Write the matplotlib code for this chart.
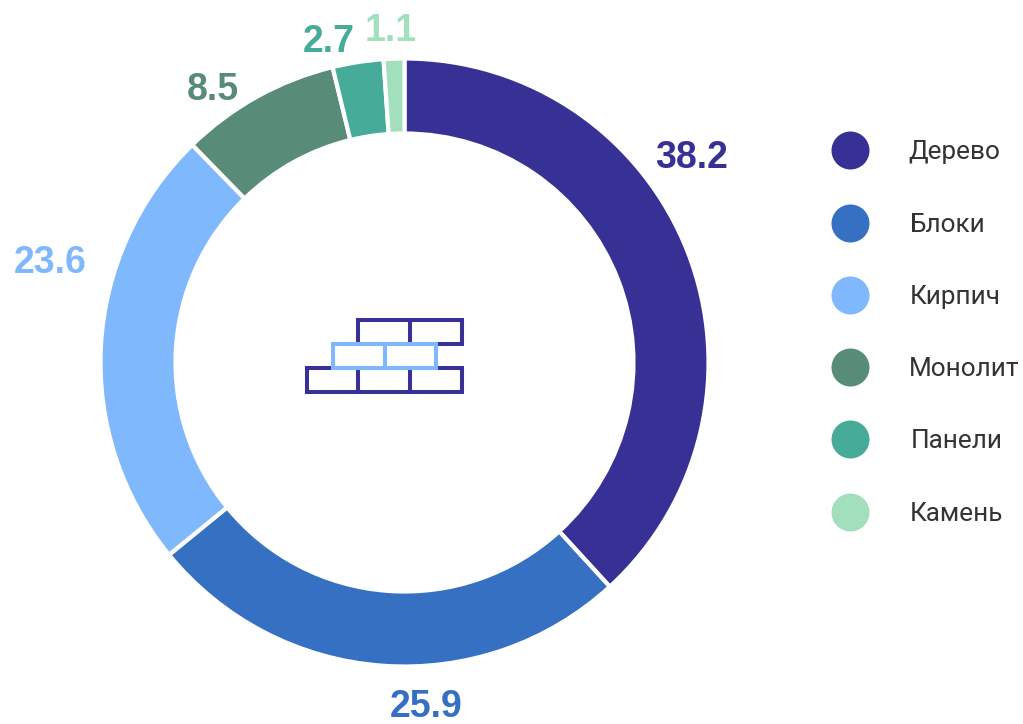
import matplotlib
matplotlib.use('Agg')
import matplotlib.pyplot as plt

names = ['Дерево', 'Блоки', 'Кирпич', 'Монолит', 'Панели', 'Камень']
values = [38.2, 25.9, 23.6, 8.5, 2.7, 1.1]
colors = ['#373196', '#3570c2', '#7fb8fd', '#588c78', '#46ac99', '#a2dfbc']

W, H = 1023, 724
fig = plt.figure(figsize=(W / 100, H / 100), dpi=100)
ax = fig.add_axes([0, 0, 1, 1])

# y axis is flipped (pixel coords), so counterclock=True runs clockwise on screen
ax.pie(values, colors=colors, center=(404.5, 362.5), radius=304, startangle=-90,
       counterclock=True, frame=False,
       wedgeprops=dict(width=75, edgecolor='white', linewidth=3))
ax.set_xlim(0, W)
ax.set_ylim(H, 0)
ax.axis('off')

# value labels
label_pos = [(692, 158), (426, 707), (50, 263), (213, 90), (329, 42), (391, 31)]
for v, c, (x, y) in zip(values, colors, label_pos):
    ax.text(x, y, str(v), color=c, fontsize=27, fontweight='bold',
            family='Liberation Sans', ha='center', va='center')

# legend
legend_y = [152, 225, 297, 369, 441, 514]
legend_x = [908.5, 909.5, 909.5, 908.5, 910.5, 909.5]
circle_y = [150, 223, 295, 367, 439, 512]
for n, c, y, x, cy in zip(names, colors, legend_y, legend_x, circle_y):
    ax.scatter([849.5], [cy], s=(38 * 0.72) ** 2, color=c, linewidths=0)
    ax.text(x, y, n, color='#333336', fontsize=18.8, family='Roboto',
            ha='left', va='center')

# brick icon
dark = '#373196'
light = '#7fb8fd'
lw = 2.9
dark_paths = [
    ([358, 358, 462, 462, 436], [344, 320, 320, 344, 344]),
    ([410, 410], [320, 344]),
    ([333, 307, 307, 462, 462, 436], [368, 368, 392, 392, 368, 368]),
    ([358, 358], [368, 392]),
    ([410, 410], [368, 392]),
]
for xs, ys in dark_paths:
    ax.plot(xs, ys, color=dark, lw=lw, solid_joinstyle='miter', solid_capstyle='butt')
ax.plot([333, 436, 436, 333, 333], [344, 344, 368, 368, 344], color=light, lw=lw,
        solid_joinstyle='miter')
ax.plot([385, 385], [344, 368], color=light, lw=lw, solid_capstyle='butt')

fig.savefig('out.png', dpi=100)
